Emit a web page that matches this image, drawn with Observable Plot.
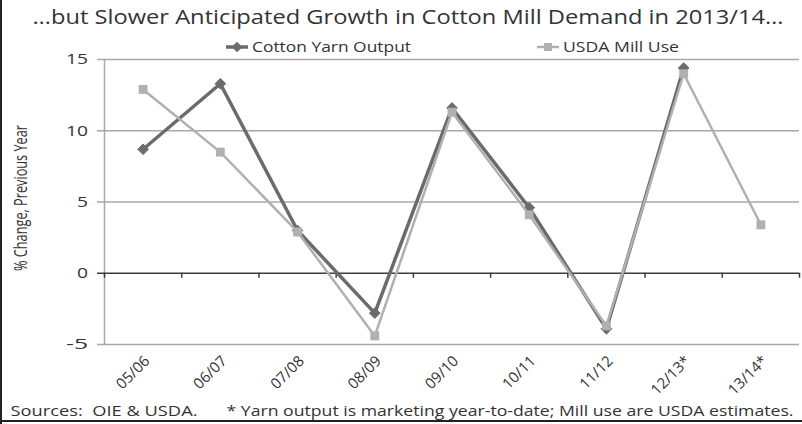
<!DOCTYPE html>
<html>
<head>
<meta charset="utf-8">
<script src="https://cdn.jsdelivr.net/npm/d3@7"></script>
<script src="https://cdn.jsdelivr.net/npm/@observablehq/plot@0.6"></script>
<style>
  html, body { margin: 0; padding: 0; background: #fff; }
  #chart { width: 802px; height: 424px; }
</style>
</head>
<body>
<div id="chart"></div>
<script>
// Marketing years (asterisk = partial / estimated year)
const categories = ["05/06", "06/07", "07/08", "08/09", "09/10", "10/11", "11/12", "12/13*", "13/14*"];
// Year-on-year % change
const yarnOutput = [8.7, 13.3, 3.0, -2.8, 11.6, 4.6, -3.9, 14.4, null];
const millUse    = [12.9, 8.5, 2.9, -4.4, 11.3, 4.1, -3.7, 14.0, 3.4];
const yTicks = [-5, 0, 5, 10, 15];

const titleText = "…but Slower Anticipated Growth in Cotton Mill Demand in 2013/14…";
const yLabel = "% Change, Previous Year";
const seriesNames = ["Cotton Yarn Output", "USDA Mill Use"];
const sourceText = "Sources:  OIE & USDA.";
const noteText = "* Yarn output is marketing year-to-date; Mill use are USDA estimates.";

const darkGray = "#6b6b6b";
const lightGray = "#b0b0b0";
const gridGray = "#a8a8a8";
const axisDark = "#3c3c3c";
const textColor = "#333";

const yarnRows = categories.map((c, i) => ({i, v: yarnOutput[i]})).filter(d => d.v != null);
const millRows = categories.map((c, i) => ({i, v: millUse[i]})).filter(d => d.v != null);
const boundaries = d3.range(categories.length + 1).map(k => k - 0.5);

const chart = Plot.plot({
  width: 802,
  height: 424,
  marginLeft: 104,
  marginRight: 3,
  marginTop: 59,
  marginBottom: 80,
  style: {fontFamily: "'Open Sans', sans-serif", background: "white", color: textColor},
  x: {type: "linear", domain: [-0.5, categories.length - 0.5], axis: null},
  y: {domain: [-5, 15], axis: null},
  marks: [
    // horizontal gridlines (with short outer ticks on the left)
    Plot.ruleY(yTicks.filter(d => d !== 0), {stroke: gridGray, strokeWidth: 1.5, insetLeft: -7}),
    // vertical value axis
    Plot.ruleX([-0.5], {stroke: gridGray, strokeWidth: 1.5}),
    // category axis on zero
    Plot.ruleY([0], {stroke: axisDark, strokeWidth: 1.5, insetLeft: -7}),
    Plot.ruleX(boundaries, {y1: 0, y2: -0.35, stroke: axisDark, strokeWidth: 1.5}),
    // y tick labels
    Plot.text(yTicks, {x: -0.5, y: d => d, text: d => String(d), textAnchor: "end", dx: -16.5, fontSize: 15, fill: textColor}),
    // x tick labels
    Plot.text(categories, {x: (d, i) => i, y: -5, text: d => d, rotate: -45, textAnchor: "end", lineAnchor: "middle", dx: 4, dy: 14, fontSize: 15, fill: textColor}),
    // series
    Plot.line(yarnRows, {x: "i", y: "v", stroke: darkGray, strokeWidth: 3.5}),
    Plot.dot(yarnRows, {x: "i", y: "v", symbol: "diamond2", r: 4.8, fill: darkGray, stroke: darkGray, strokeWidth: 1}),
    Plot.line(millRows, {x: "i", y: "v", stroke: lightGray, strokeWidth: 2.5}),
    Plot.dot(millRows, {x: "i", y: "v", symbol: "square", r: 5, fill: lightGray, stroke: "none"}),
    // y axis title
    Plot.text([yLabel], {frameAnchor: "left", rotate: -90, textAnchor: "middle", lineAnchor: "middle", dx: -84, dy: -4, fontSize: 19, fill: textColor}),
    // title
    Plot.text([titleText], {frameAnchor: "top-left", textAnchor: "start", lineAnchor: "middle", dx: -72, dy: -42, fontSize: 20, fill: textColor}),
    // footer
    Plot.text([sourceText], {frameAnchor: "bottom-left", textAnchor: "start", lineAnchor: "middle", dx: -94, dy: 67, fontSize: 14.5, fill: textColor}),
    Plot.text([noteText], {frameAnchor: "bottom-left", textAnchor: "start", lineAnchor: "middle", dx: 122, dy: 67, fontSize: 14.5, fill: textColor})
  ]
});

document.getElementById("chart").appendChild(chart);

const svg = d3.select(chart);

// legend
const legend = svg.append("g")
  .attr("font-family", "'Open Sans', sans-serif")
  .attr("font-size", 15)
  .attr("fill", textColor)
  .attr("text-anchor", "start");
const ly = 47;
const items = [
  {name: seriesNames[0], x0: 226, color: darkGray, sw: 3.5, shape: d3.symbolDiamond2, size: 72},
  {name: seriesNames[1], x0: 537, color: lightGray, sw: 2.5, shape: d3.symbolSquare, size: 64}
];
items.forEach(it => {
  legend.append("line").attr("x1", it.x0).attr("x2", it.x0 + 22).attr("y1", ly).attr("y2", ly)
    .attr("stroke", it.color).attr("stroke-width", it.sw);
  legend.append("path").attr("d", d3.symbol(it.shape, it.size)()).attr("transform", `translate(${it.x0 + 11},${ly})`)
    .attr("fill", it.color);
  legend.append("text").attr("x", it.x0 + 26).attr("y", ly).attr("dy", "0.35em").text(it.name);
});

// the wide lettering of the headline, axis labels, legend and notes
const textWidths = new Map([
  [titleText, 751],
  [yLabel, 146],
  [seriesNames[0], 159],
  [seriesNames[1], 116],
  [sourceText, 187],
  [noteText, 567],
  ["15", 22], ["10", 22], ["-5", 22], ["5", 11], ["0", 11]
]);
svg.selectAll("text").each(function() {
  const w = textWidths.get(this.textContent);
  if (w) d3.select(this).attr("textLength", w).attr("lengthAdjust", "spacingAndGlyphs");
});

// outer frame
svg.append("line").attr("x1", 1).attr("x2", 1).attr("y1", 0).attr("y2", 424).attr("stroke", "#222").attr("stroke-width", 2);
svg.append("line").attr("x1", 0).attr("x2", 802).attr("y1", 421).attr("y2", 421).attr("stroke", "#222").attr("stroke-width", 2);
</script>
</body>
</html>
